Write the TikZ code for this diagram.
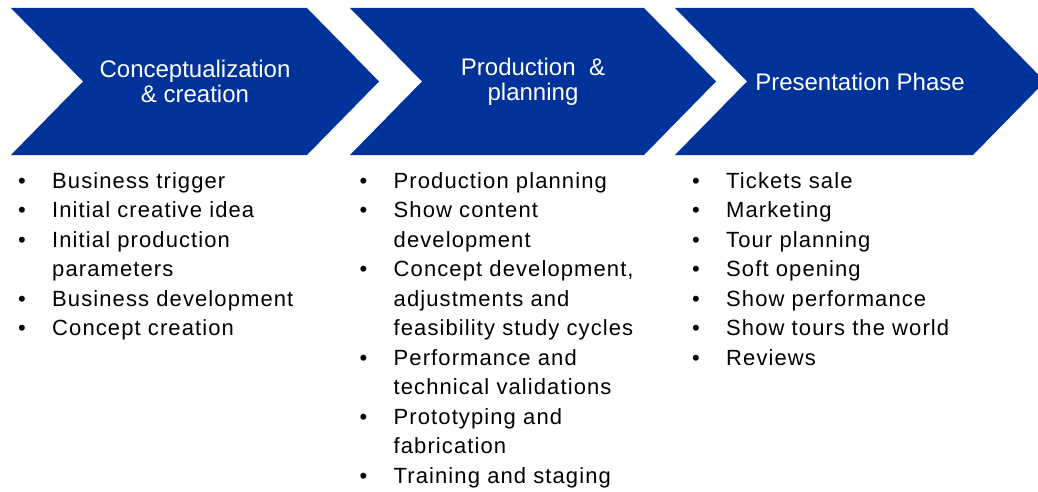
\documentclass[tikz,border=0pt]{standalone}
\usepackage{fontspec}
\usepackage{tikz}
\setmainfont{Liberation Sans}
\newfontfamily\pointfamily{Liberation Sans}[LetterSpace=5]
\definecolor{phaseblue}{RGB}{0,51,153}
\newcommand\phasefont{\fontsize{24}{25}\selectfont}
\newcommand\pointfont{\pointfamily\fontsize{22}{29.5}\selectfont}

\begin{document}
\begin{tikzpicture}[x=1pt,y=1pt,
	phase/.style={fill=phaseblue},
	heading/.style={text=white, font=\phasefont, align=center, inner sep=0pt},
	points/.style={anchor=base west, inner sep=0pt, font=\pointfont}]
	\useasboundingbox (0,0) rectangle (1038,491);
	\clip (0,0) rectangle (1038,491);
	% the three chevrons
	\fill[phase] (11,483) -- (307,483) -- (379,409.5) -- (307,336) -- (11,336) -- (83,409.5) -- cycle;
	\fill[phase] (350,483) -- (644,483) -- (716,409.5) -- (644,336) -- (350,336) -- (422,409.5) -- cycle;
	\fill[phase] (675,483) -- (973,483) -- (1045,409.5) -- (973,336) -- (675,336) -- (747,409.5) -- cycle;
	\node[heading] (concept) at (195,409.5) {Conceptualization\\\& creation};
	\node[heading] (production) at (533,409.5) {Production\ \ \&\\planning};
	\node[heading] (presentation) at (860,409.5) {Presentation Phase};
	% bullet lists under each phase
	\node[points] (conceptlist) at (18,303) {\begin{tabular}[t]{@{}p{34pt}@{}l@{}}
		\textbullet & Business trigger\\
		\textbullet & Initial creative idea\\
		\textbullet & Initial production\\
		& parameters\\
		\textbullet & Business development\\
		\textbullet & Concept creation
	\end{tabular}};
	\node[points] (productionlist) at (359.5,303) {\begin{tabular}[t]{@{}p{34pt}@{}l@{}}
		\textbullet & Production planning\\
		\textbullet & Show content\\
		& development\\
		\textbullet & Concept development,\\
		& adjustments and\\
		& feasibility study cycles\\
		\textbullet & Performance and\\
		& technical validations\\
		\textbullet & Prototyping and\\
		& fabrication\\
		\textbullet & Training and staging
	\end{tabular}};
	\node[points] (presentationlist) at (692,303) {\begin{tabular}[t]{@{}p{34pt}@{}l@{}}
		\textbullet & Tickets sale\\
		\textbullet & Marketing\\
		\textbullet & Tour planning\\
		\textbullet & Soft opening\\
		\textbullet & Show performance\\
		\textbullet & Show tours the world\\
		\textbullet & Reviews
	\end{tabular}};
\end{tikzpicture}
\end{document}
